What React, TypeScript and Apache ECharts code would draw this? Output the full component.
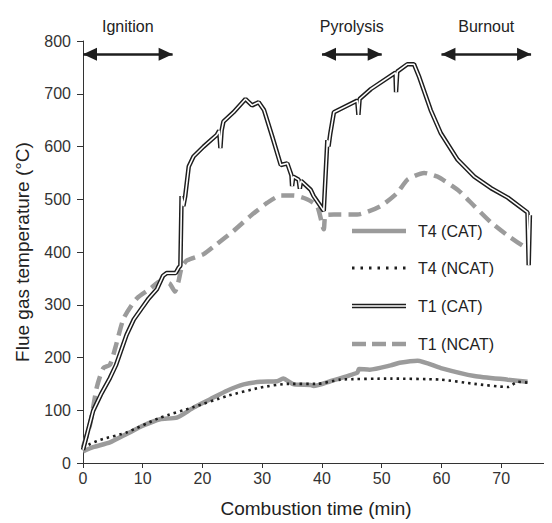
import React, { useEffect, useRef } from "react";
import * as echarts from "echarts";

// Combustion time (min) and flue gas temperature (°C)
const t1CatTime = [0, 0.8, 1.7, 3, 4.5, 5.5, 7.3, 8.5, 9.8, 11, 12.4, 13.4, 14, 15.5, 16, 16.3, 16.5, 16.8, 17.1, 17.7, 18.5, 20.2, 22.4, 22.8, 23, 23.2, 23.5, 25.2, 27.2, 28.3, 29.4, 30.3, 31.7, 33.1, 34.2, 34.9, 35, 35.2, 36.1, 36.3, 36.5, 38.1, 38.6, 40.3, 40.9, 41.1, 41.4, 42, 45.9, 46.1, 46.3, 48.2, 52.3, 52.4, 52.6, 54.3, 55.4, 56.3, 58.2, 59.9, 62.7, 65.5, 68.3, 71.1, 74.4, 74.6, 74.8];
const t1CatTemp = [25, 60, 99, 130, 161, 185, 243, 272, 293, 312, 330, 355, 360, 360, 370, 374, 506, 487, 505, 562, 581, 600, 622, 630, 597, 630, 647, 665, 690, 678, 684, 669, 618, 565, 568, 545, 525, 543, 537, 520, 535, 518, 506, 478, 612, 600, 625, 665, 687, 660, 690, 709, 740, 703, 742, 756, 756, 731, 669, 625, 575, 543, 521, 503, 475, 375, 470];

const t1NcatTime = [0, 1.2, 2.3, 3.4, 4.5, 5.4, 6.8, 9, 11.2, 13, 14.5, 15.4, 16, 16.5, 17.4, 20.2, 22.4, 25.2, 28, 30.8, 33.1, 35.3, 37.5, 39.2, 40.3, 40.6, 42, 45.9, 49.8, 52.6, 54.3, 57.1, 59.3, 62.7, 65.5, 68.3, 71.1, 74.4];
const t1NcatTemp = [30, 74, 143, 180, 186, 218, 274, 312, 330, 345, 340, 325, 345, 370, 384, 396, 415, 440, 468, 493, 507, 507, 500, 487, 443, 470, 471, 471, 487, 512, 537, 550, 543, 518, 487, 456, 431, 406];

const t4CatTime = [0, 1.7, 4.5, 7.3, 10.1, 12.9, 15.7, 18.5, 21.3, 24.1, 26.9, 29.7, 32.5, 33.5, 35.3, 38.1, 38.6, 41.4, 45.9, 46.2, 48, 51.5, 53, 56, 59.9, 65.5, 71.1, 74.4];
const t4CatTemp = [22, 30, 39, 55, 71, 83, 86, 105, 121, 137, 149, 154, 155, 160, 149, 148, 146, 155, 171, 178, 177, 185, 190, 194, 180, 165, 158, 154];

const t4NcatTime = [0, 1.2, 2.9, 7.3, 12.9, 18.5, 24.1, 29.7, 34.2, 39.2, 43.1, 51.5, 59.9, 65.5, 71.1, 72.8, 74.7];
const t4NcatTemp = [28, 36, 44, 58, 86, 106, 127, 143, 150, 150, 158, 160, 158, 150, 144, 154, 152];

const phaseNames = ["Ignition", "Pyrolysis", "Burnout"];
const phaseStart = [0, 40, 60];
const phaseEnd = [15, 50, 75];
const phaseLevel = 775;

const yTicks = [0, 100, 200, 300, 400, 500, 600, 700, 800];
const xTicks = [0, 10, 20, 30, 40, 50, 60, 70];

const legendNames = ["T4 (CAT)", "T4 (NCAT)", "T1 (CAT)", "T1 (NCAT)"];

const zip = (a: number[], b: number[]) => a.map((v, i) => [v, b[i]]);

const FONT = "Liberation Sans, Arial, Helvetica, sans-serif";
const GRAY = "#9b9b9b";
const DARK = "#1e1e1e";

export default function App() {
  const ref = useRef<HTMLDivElement>(null);
  useEffect(() => {
    if (!ref.current) return;
    const chart = echarts.init(ref.current, undefined, { renderer: "svg" });

    const legendY = [231, 268, 306, 344];
    const lx1 = 352;
    const lx2 = 406;
    const graphic: any[] = [
      { type: "line", shape: { x1: lx1, y1: legendY[0], x2: lx2, y2: legendY[0] }, style: { stroke: GRAY, lineWidth: 4.5 } },
      { type: "line", shape: { x1: lx1, y1: legendY[1], x2: lx2, y2: legendY[1] }, style: { stroke: DARK, lineWidth: 2.8, lineDash: [2.5, 6], lineCap: "butt" } },
      { type: "line", shape: { x1: lx1, y1: legendY[2], x2: lx2, y2: legendY[2] }, style: { stroke: DARK, lineWidth: 4.5 } },
      { type: "line", shape: { x1: lx1, y1: legendY[2], x2: lx2, y2: legendY[2] }, style: { stroke: "#fff", lineWidth: 1.6 } },
      { type: "line", shape: { x1: lx1, y1: legendY[3], x2: lx2, y2: legendY[3] }, style: { stroke: GRAY, lineWidth: 4.5, lineDash: [14, 6] } },
    ];
    legendNames.forEach((n, i) => {
      graphic.push({
        type: "text",
        x: 418,
        y: legendY[i],
        style: { text: n, fill: "#222", font: `16px ${FONT}`, verticalAlign: "middle", textAlign: "left" },
      });
    });

    const option: any = {
      animation: false,
      backgroundColor: "#fff",
      grid: { left: 83, right: 3, top: 41, bottom: 57 },
      xAxis: [
        {
          type: "value",
          min: 0,
          max: 78,
          interval: 10,
          name: "Combustion time (min)",
          nameLocation: "middle",
          nameGap: 36,
          nameTextStyle: { fontSize: 19, color: "#222", fontFamily: FONT },
          axisLine: { show: true, onZero: false, lineStyle: { color: "#333", width: 1 } },
          axisTick: { show: true, inside: false, length: 5, lineStyle: { color: "#333" } },
          axisLabel: {
            fontSize: 16,
            color: "#333",
            fontFamily: FONT,
            margin: 7,
            showMaxLabel: false,
            formatter: (v: number) => (xTicks.includes(v) ? String(v) : ""),
          },
          splitLine: { show: false },
        },
        {
          type: "value",
          position: "top",
          min: 0,
          max: 78,
          axisLine: { show: true, lineStyle: { color: "#333", width: 1 } },
          axisTick: { show: false },
          axisLabel: { show: false },
          splitLine: { show: false },
        },
      ],
      yAxis: {
        type: "value",
        min: 0,
        max: 800,
        interval: 100,
        name: "Flue gas temperature (°C)",
        nameLocation: "middle",
        nameGap: 51,
        nameTextStyle: { fontSize: 19, color: "#222", fontFamily: FONT },
        axisLine: { show: true, lineStyle: { color: "#333", width: 1 } },
        axisTick: { show: true, inside: false, length: 6, lineStyle: { color: "#333" } },
        axisLabel: {
          fontSize: 16,
          color: "#333",
          fontFamily: FONT,
          margin: 12,
          formatter: (v: number) => (yTicks.includes(v) ? String(v) : ""),
        },
        splitLine: { show: false },
      },
      graphic,
      series: [
        {
          name: "T4 (CAT)",
          type: "line",
          data: zip(t4CatTime, t4CatTemp),
          showSymbol: false,
          smooth: 0.2,
          lineStyle: { color: GRAY, width: 4.5 },
          z: 2,
        },
        {
          name: "T4 (NCAT)",
          type: "line",
          data: zip(t4NcatTime, t4NcatTemp),
          showSymbol: false,
          smooth: 0.2,
          lineStyle: { color: DARK, width: 2.6, type: [2.5, 4] },
          z: 3,
        },
        {
          name: "T1 (NCAT)",
          type: "line",
          data: zip(t1NcatTime, t1NcatTemp),
          showSymbol: false,
          smooth: 0.2,
          lineStyle: { color: GRAY, width: 4.5, type: [13, 7] },
          z: 3,
        },
        {
          name: "T1 (CAT)",
          type: "line",
          data: zip(t1CatTime, t1CatTemp),
          showSymbol: false,
          lineStyle: { color: DARK, width: 4.5 },
          z: 4,
        },
        {
          name: "T1 (CAT) inner",
          type: "line",
          data: zip(t1CatTime, t1CatTemp),
          showSymbol: false,
          lineStyle: { color: "#fff", width: 1.6 },
          z: 5,
        },
        {
          name: "phases",
          type: "line",
          data: [],
          markLine: {
            silent: true,
            symbol: ["triangle", "triangle"],
            symbolSize: [13, 14],
            symbolOffset: [[0, 7], [0, 7]],
            lineStyle: { color: DARK, width: 2.5, type: "solid" },
            label: {
              show: true,
              position: "middle",
              distance: 20,
              color: "#222",
              fontSize: 16,
              fontFamily: FONT,
              formatter: (p: any) => p.name,
            },
            data: phaseNames.map((n, i) => [
              { name: n, coord: [phaseStart[i], phaseLevel] },
              { coord: [phaseEnd[i], phaseLevel] },
            ]),
          },
        },
      ],
    };
    chart.setOption(option);
    return () => chart.dispose();
  }, []);
  return <div ref={ref} style={{ width: 552, height: 523, marginLeft: -8, marginTop: -8 }} />;
}
